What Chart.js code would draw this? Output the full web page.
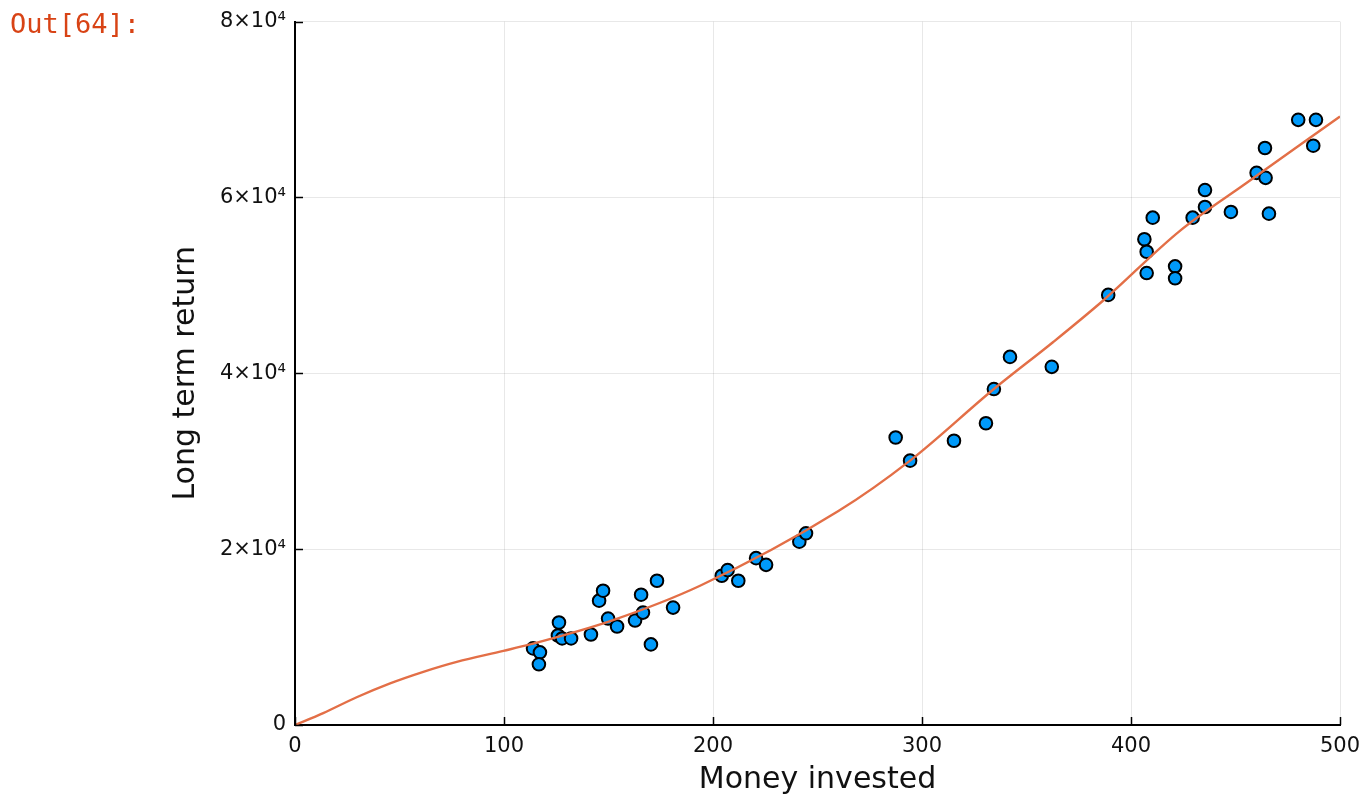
<!DOCTYPE html>
<html>
<head>
<meta charset="utf-8">
<script src="https://cdn.jsdelivr.net/npm/chart.js@4/dist/chart.umd.min.js"></script>
<style>
  html, body { margin: 0; padding: 0; background: #ffffff; }
  #wrap { position: relative; width: 1372px; height: 798px; }
  #out { position: absolute; left: 10px; top: 9px; font-family: 'DejaVu Sans Mono', monospace; font-size: 27px; color: #D84315; line-height: 30px; }
  canvas { position: absolute; left: 0; top: 0; }
</style>
</head>
<body>
<div id="wrap">
  <canvas id="c" width="1372" height="798"></canvas>
  <div id="out">Out[64]:</div>
</div>
<script>
// Observed data (Money invested vs Long term return)
const investedX = [113.9, 117.2, 116.7, 125.8, 126.3, 127.8, 132.1, 141.6, 145.5, 147.4,
                   149.8, 154.1, 162.7, 165.6, 166.5, 170.3, 173.2, 180.9, 204.2, 207.0,
                   212.1, 220.6, 225.4, 241.3, 244.5, 287.4, 294.3, 315.3, 330.6, 334.4,
                   342.1, 362.1, 389.1, 406.4, 407.5, 407.5, 410.4, 421.1, 421.1, 429.5,
                   435.4, 435.4, 447.8, 466.0, 460.1, 464.4, 464.1, 480.0, 487.2, 488.5];
const returnY = [8712, 8260, 6902, 10183, 11654, 9844, 9844, 10296, 14143, 15275,
                 12107, 11202, 11880, 14822, 12786, 9165, 16406, 13351, 16972, 17617,
                 16406, 18975, 18217, 20853, 21804, 32700, 30063, 32326, 34318, 38210,
                 41865, 40733, 48914, 55250, 53825, 51403, 57705, 52161, 50803, 57705,
                 58916, 60840, 58350, 58158, 62797, 62231, 65626, 68828, 65886, 68828];

// Fitted curve
const fitX = [0, 13.5, 29.5, 45.5, 61.4, 77.4, 99.7, 112.4, 151.5, 193.8, 260, 294.3, 334.4, 362.8, 386.7, 423.4, 455.4, 500];
const fitY = [0, 1350, 3157, 4739, 6054, 7185, 8430, 9165, 11880, 15841, 24327, 30063, 38210, 43561, 48280, 56200, 61665, 69213];

// Tick labels
const xTickValues = [0, 100, 200, 300, 400, 500];
const yTickValues = [0, 20000, 40000, 60000, 80000];
const yTickLabels = ['0', '2×10⁴', '4×10⁴', '6×10⁴', '8×10⁴'];

const xLabel = 'Money invested';
const yLabel = 'Long term return';

const scatterPts = investedX.map((x, i) => ({ x: x, y: returnY[i] }));
const fitPts = fitX.map((x, i) => ({ x: x, y: fitY[i] }));

const innerTicks = {
  id: 'innerTicks',
  afterDraw(chart) {
    const ctx = chart.ctx;
    const xs = chart.scales.x, ys = chart.scales.y;
    ctx.save();
    ctx.strokeStyle = '#000';
    ctx.lineWidth = 1.5;
    xTickValues.forEach(v => {
      const px = Math.round(xs.getPixelForValue(v)) + 0.5;
      ctx.beginPath(); ctx.moveTo(px, ys.bottom); ctx.lineTo(px, ys.bottom - 8); ctx.stroke();
    });
    yTickValues.forEach(v => {
      const py = Math.round(ys.getPixelForValue(v)) + 0.5;
      ctx.beginPath(); ctx.moveTo(xs.left, py); ctx.lineTo(xs.left + 8, py); ctx.stroke();
    });
    ctx.restore();
  }
};

const FONT = "'DejaVu Sans', sans-serif";

new Chart(document.getElementById('c'), {
  type: 'scatter',
  data: {
    datasets: [
      {
        type: 'line',
        data: fitPts,
        showLine: true,
        borderColor: '#E36F47',
        borderWidth: 2.4,
        pointRadius: 0,
        fill: false,
        cubicInterpolationMode: 'monotone'
      },
      {
        data: scatterPts,
        backgroundColor: '#009AFA',
        borderColor: '#000000',
        borderWidth: 2,
        pointRadius: 6.3
      }
    ]
  },
  plugins: [innerTicks],
  options: {
    responsive: false,
    animation: false,
    events: [],
    layout: { autoPadding: false, padding: { left: 0, top: 16, right: 32, bottom: 0 } },
    plugins: { legend: { display: false }, tooltip: { enabled: false } },
    scales: {
      x: {
        type: 'linear',
        min: 0, max: 500,
        afterBuildTicks(scale) { scale.ticks = xTickValues.map(v => ({ value: v })); },
        afterFit(scale) { scale.height = 73; },
        grid: { color: 'rgba(0,0,0,0.09)', lineWidth: 1, drawTicks: false },
        border: { color: '#000', width: 2 },
        ticks: { color: '#111', font: { family: FONT, size: 21 }, padding: 9, maxRotation: 0 },
        title: { display: true, text: xLabel, color: '#111', font: { family: FONT, size: 30 }, padding: { top: 0, bottom: 0 } }
      },
      y: {
        type: 'linear',
        min: 0, max: 80000,
        afterBuildTicks(scale) { scale.ticks = yTickValues.map(v => ({ value: v })); },
        afterFit(scale) { scale.width = 295; },
        grid: { color: 'rgba(0,0,0,0.09)', lineWidth: 1, drawTicks: false },
        border: { color: '#000', width: 2 },
        ticks: {
          color: '#111', font: { family: FONT, size: 21 }, padding: 9,
          callback: (v) => { const i = yTickValues.indexOf(v); return i >= 0 ? yTickLabels[i] : ''; }
        },
        title: { display: true, text: yLabel, color: '#111', font: { family: FONT, size: 30 }, padding: { top: 168, bottom: 0 } }
      }
    }
  }
});
</script>
</body>
</html>
